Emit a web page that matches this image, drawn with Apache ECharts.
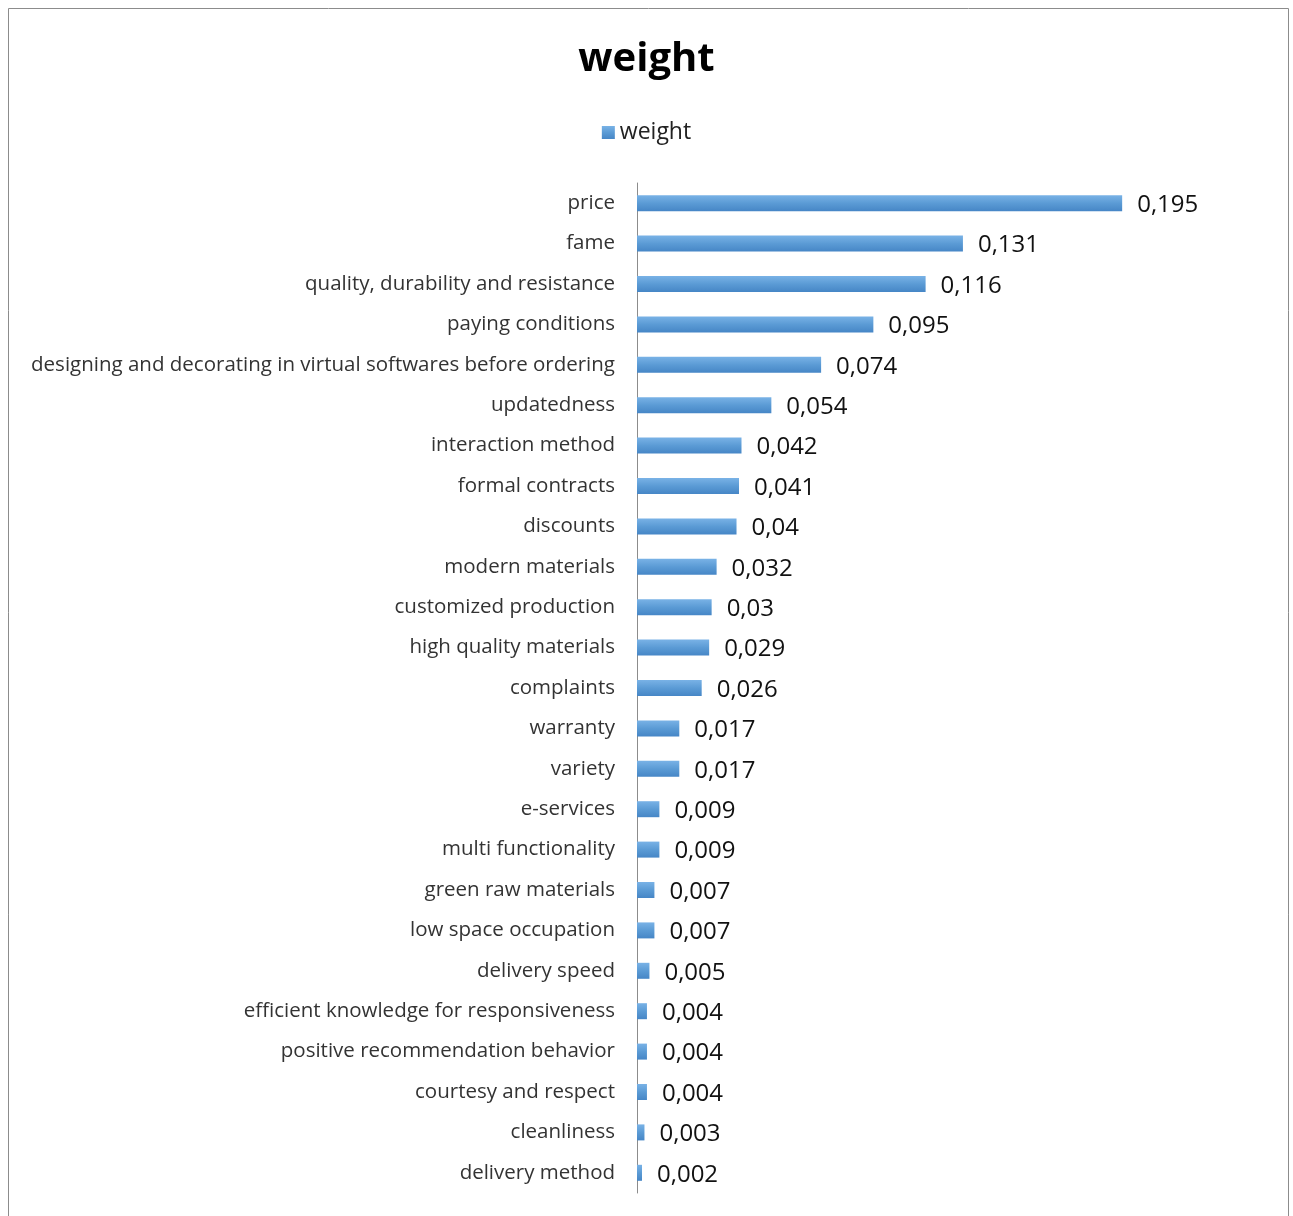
<!DOCTYPE html>
<html><head><meta charset="utf-8">
<script src="https://cdn.jsdelivr.net/npm/echarts@6/dist/echarts.min.js"></script>
<style>html,body{margin:0;padding:0;background:#fff}#c{width:1293px;height:1216px}</style>
</head><body><div id="c"></div>
<script>
const categories = ["price","fame","quality, durability and resistance","paying conditions","designing and decorating in virtual softwares before ordering","updatedness","interaction method","formal contracts","discounts","modern materials","customized production","high quality materials","complaints","warranty","variety","e-services","multi functionality","green raw materials","low space occupation","delivery speed","efficient knowledge for responsiveness","positive recommendation behavior","courtesy and respect","cleanliness","delivery method"];
const weights = [0.195,0.131,0.116,0.095,0.074,0.054,0.042,0.041,0.04,0.032,0.03,0.029,0.026,0.017,0.017,0.009,0.009,0.007,0.007,0.005,0.004,0.004,0.004,0.003,0.002];
const seriesName = "weight";
const chart = echarts.init(document.getElementById('c'));
const font = "'Open Sans', 'Noto Sans', sans-serif";
chart.setOption({
  animation: false,
  title: {text: 'weight', left: 'center', top: 35, textStyle: {fontFamily: font, fontSize: 40, fontWeight: 'bold', color: '#000'}},
  legend: {data: [seriesName], top: 116, left: 'center', icon: 'rect', itemWidth: 13, itemHeight: 13, itemGap: 7,
    textStyle: {fontFamily: font, fontSize: 23, color: '#222'}},
  graphic: [{type: 'rect', shape: {x: 8.5, y: 8.5, width: 1280, height: 1230}, style: {fill: 'none', stroke: '#8c8c8c', lineWidth: 1}, silent: true}],
  grid: {left: 637, right: 34, top: 183, bottom: 23, containLabel: false},
  xAxis: {type: 'value', min: 0, max: 0.25, show: false},
  yAxis: {type: 'category', data: categories, inverse: true,
    axisLine: {show: true, lineStyle: {color: '#8c8c8c', width: 1}},
    axisTick: {show: false},
    axisLabel: {margin: 22, fontFamily: font, fontSize: 20.5, color: '#333'}},
  series: [{name: seriesName, type: 'bar', data: weights, barWidth: 16,
    itemStyle: {color: new echarts.graphic.LinearGradient(0,0,0,1,[{offset:0,color:'#79b2e6'},{offset:0.5,color:'#5b9bd5'},{offset:1,color:'#4686c6'}])},
    label: {show: true, position: 'right', distance: 15, fontFamily: font, fontSize: 24, color: '#111', offset: [0, 2],
      formatter: p => String(p.value).replace('.', ',')}}]
});
</script></body></html>
